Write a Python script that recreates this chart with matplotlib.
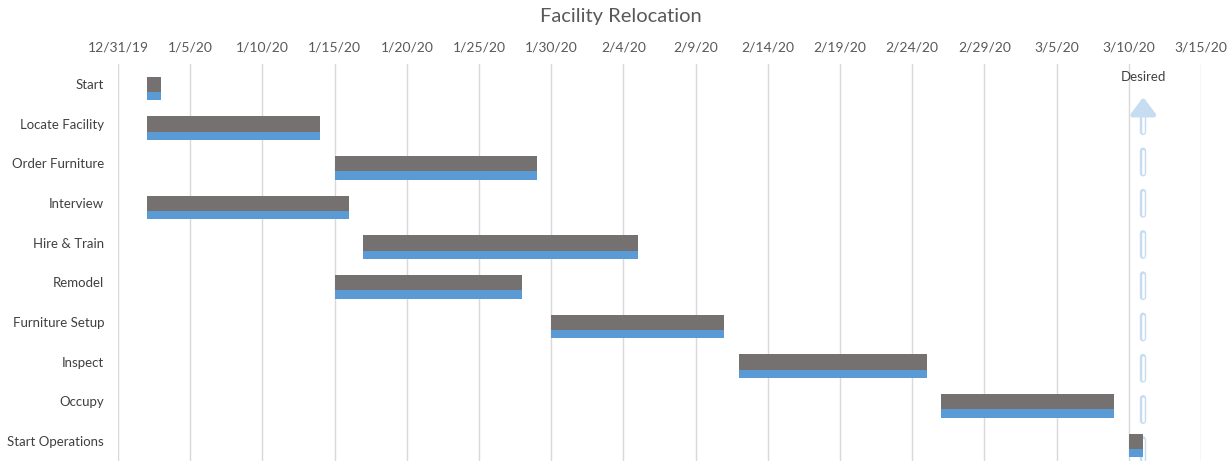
import matplotlib
matplotlib.use("Agg")
import matplotlib.pyplot as plt
import matplotlib.dates as mdates
import matplotlib.patheffects as pe
from matplotlib.ticker import FuncFormatter, FixedLocator
import datetime as dt

tasks = ["Start", "Locate Facility", "Order Furniture", "Interview", "Hire & Train",
         "Remodel", "Furniture Setup", "Inspect", "Occupy", "Start Operations"]
start_dates = ["2020-01-02", "2020-01-02", "2020-01-15", "2020-01-02", "2020-01-17",
               "2020-01-15", "2020-01-30", "2020-02-12", "2020-02-26", "2020-03-10"]
planned_days = [1, 12, 14, 14, 19, 13, 12, 13, 12, 1]
actual_days = [1, 12, 14, 14, 19, 13, 12, 13, 12, 1]
desired_date = "2020-03-11"
tick_dates = ["2019-12-31", "2020-01-05", "2020-01-10", "2020-01-15", "2020-01-20",
              "2020-01-25", "2020-01-30", "2020-02-04", "2020-02-09", "2020-02-14",
              "2020-02-19", "2020-02-24", "2020-02-29", "2020-03-05", "2020-03-10",
              "2020-03-15"]

plt.rcParams['font.family'] = ['Lato', 'DejaVu Sans']

def d2n(s):
    return mdates.date2num(dt.datetime.strptime(s, "%Y-%m-%d"))

fig = plt.figure(figsize=(12.3, 4.61), dpi=100)
ax = fig.add_axes([118/1230, 0.0, (1201-118)/1230, (461-64.15)/461])

starts = [d2n(s) for s in start_dates]
ys = list(range(len(tasks)))

gray = "#767171"
blue = "#5B9BD5"

# gray (planned) upper part, blue (actual) lower part
ax.barh([y - 0.184 for y in ys], planned_days, left=starts, height=0.386,
        align='edge', color=gray, linewidth=0, zorder=5)
ax.barh([y + 0.2 for y in ys], actual_days, left=starts, height=0.21,
        align='edge', color=blue, linewidth=0, zorder=5)

ticks = [d2n(s) for s in tick_dates]
ax.set_xlim(ticks[0], ticks[-1])
ax.set_ylim(9.5, -0.5)
ax.xaxis.set_major_locator(FixedLocator(ticks))

def fmt(x, pos):
    d = mdates.num2date(x)
    return f"{d.month}/{d.day}/{d.year % 100:02d}"
ax.xaxis.set_major_formatter(FuncFormatter(fmt))
ax.xaxis.tick_top()
ax.tick_params(axis='x', length=0, pad=8, labelsize=10, labelcolor="#595959")
ax.set_yticks(ys)
ax.set_yticklabels(tasks)
ax.tick_params(axis='y', length=0, pad=10, labelsize=9.5, labelcolor="#404040")
for s in ax.spines.values():
    s.set_visible(False)
ax.grid(axis='x', color="#D9D9D9", linewidth=1.0, zorder=0)
ax.set_axisbelow(True)

# Desired marker
dx = d2n(desired_date)
lc = "#C5DCF1"
ln, = ax.plot([dx, dx], [9.55, 0.66], color='white', linewidth=1.8,
              dashes=(9, 7.5), dash_capstyle='round', zorder=4, clip_on=False)
ln.set_path_effects([pe.Stroke(linewidth=4.6, foreground=lc), pe.Normal()])
ax.annotate('', xy=(dx, 0.33), xytext=(dx, 0.62),
            arrowprops=dict(arrowstyle='-|>,head_width=0.75,head_length=1.0',
                            color=lc, lw=3.5, shrinkA=0, shrinkB=0), zorder=4)
ax.text(dx, -0.18, "Desired", ha='center', va='center', fontsize=9.5,
        color="#404040", zorder=6)

fig.text(0.505, 0.965, "Facility Relocation", ha='center', va='center',
         fontsize=14.5, color="#595959")

fig.savefig("out.png", dpi=100)
